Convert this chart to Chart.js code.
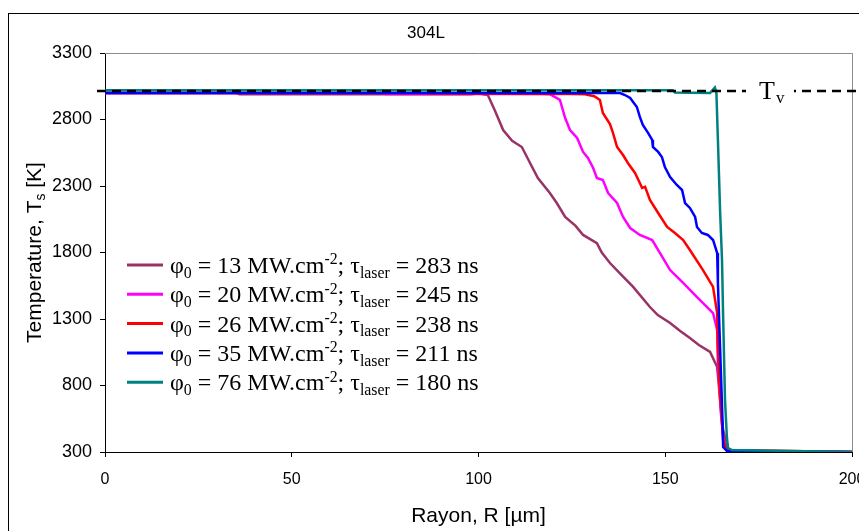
<!DOCTYPE html>
<html>
<head>
<meta charset="utf-8">
<script src="https://cdn.jsdelivr.net/npm/chart.js@4.4.0/dist/chart.umd.min.js"></script>
<style>
  html, body { margin: 0; padding: 0; background: #fff; overflow: hidden; }
</style>
</head>
<body>
<canvas id="myChart" width="900" height="560"></canvas>
<script>
const titulo = "304L";
const phi0 = [13, 20, 26, 35, 76];
const tauLaser = [283, 245, 238, 211, 180];
const colores = ["#993366", "#ff00ff", "#ff0000", "#0000ff", "#008080"];
const Tv = 3015;
const xTicks = [0, 50, 100, 150, 200];
const yTicks = [300, 800, 1300, 1800, 2300, 2800, 3300];

// phi0 = 13
const r13 = [0, 35, 36, 98, 100, 102.5, 104.5, 106.6, 109, 111.6, 113.8, 115.9, 119.1, 121, 123.2, 126, 128, 131.7, 133, 135.2, 138, 141.4, 145.9, 148, 151.3, 154, 156.6, 159, 162, 163.9, 164.7, 165.5, 166.8, 167.6, 200];
const t13 = [3000, 3000, 2990, 2990, 2995, 2984, 2860, 2721, 2640, 2593, 2473, 2360, 2247, 2170, 2067, 2000, 1932, 1871, 1800, 1721, 1640, 1541, 1390, 1330, 1270, 1210, 1157, 1105, 1052, 939, 691, 465, 330, 300, 300];
// phi0 = 20
const r20 = [0, 74, 75, 117, 119.1, 121.8, 123.2, 124.5, 126.4, 128, 129.3, 130.7, 131.7, 133.3, 134.7, 137.1, 138.7, 140.6, 143.2, 146.5, 148.6, 151.3, 154.8, 158.5, 162.8, 163.9, 164.1, 164.9, 165.7, 166.8, 200];
const t20 = [3000, 3000, 2992, 2992, 2990, 2947, 2811, 2721, 2661, 2556, 2511, 2435, 2360, 2345, 2247, 2172, 2067, 1984, 1932, 1894, 1796, 1668, 1571, 1465, 1345, 1217, 969, 593, 368, 307, 300];
// phi0 = 26
const r26 = [0, 86, 87, 125, 128.5, 131, 132.5, 133.3, 135.2, 136, 137.1, 138.7, 140, 141.9, 143.2, 143.8, 144.6, 145.9, 148.1, 150.5, 152.6, 154.8, 156.6, 160.1, 162.8, 163.9, 164.1, 164.7, 165.5, 166.5, 200];
const t26 = [3000, 3000, 2995, 2992, 2990, 2975, 2947, 2849, 2766, 2699, 2593, 2533, 2473, 2398, 2323, 2285, 2293, 2195, 2097, 1992, 1947, 1894, 1819, 1668, 1541, 1345, 1089, 714, 390, 315, 300];
// phi0 = 35
const r35 = [0, 137.9, 139.2, 140.6, 142.4, 143.2, 144, 145.4, 146.5, 146.7, 148.1, 149.1, 149.9, 151.3, 153.1, 154.5, 155.3, 156.6, 158, 158.5, 159.8, 161.4, 162.8, 163.9, 164.1, 164.7, 165.3, 165.5, 166.5, 200];
const t35 = [3000, 2999, 2984, 2962, 2894, 2819, 2759, 2699, 2646, 2593, 2556, 2518, 2443, 2368, 2308, 2270, 2172, 2135, 2067, 1992, 1947, 1932, 1894, 1796, 1571, 1067, 563, 338, 308, 300];
// phi0 = 76
const r76 = [0, 152, 152.6, 162, 163.3, 163.7, 164.1, 164.7, 165.2, 165.5, 166, 166.5, 166.8, 167.9, 200];
const t76 = [3020, 3020, 3003, 3000, 3040, 3000, 2646, 2097, 1744, 1315, 691, 413, 330, 315, 300];

const rayons = [r13, r20, r26, r35, r76];
const temps = [t13, t20, t26, t35, t76];

const graph = document.querySelector("#myChart");

function texteRiche(ctx, x, y, parts, size, family) {
  for (const [txt, mode] of parts) {
    const s = mode ? size * 0.66 : size;
    ctx.font = `${s}px ${family}`;
    const dy = mode === 1 ? size * 0.2 : mode === 2 ? -size * 0.36 : 0;
    ctx.fillText(txt, x, y + dy);
    x += ctx.measureText(txt).width;
  }
  return x;
}

function largeurRiche(ctx, parts, size, family) {
  let w = 0;
  for (const [txt, mode] of parts) {
    ctx.font = `${mode ? size * 0.66 : size}px ${family}`;
    w += ctx.measureText(txt).width;
  }
  return w;
}

const serif = '"Liberation Serif", "Times New Roman", serif';
const sans = '"Liberation Sans", Arial, sans-serif';

const dessins = {
  id: "dessins",
  beforeDraw(chart) {
    const ctx = chart.ctx;
    ctx.save();
    ctx.fillStyle = "#fff";
    ctx.fillRect(0, 0, chart.width, chart.height);
    ctx.strokeStyle = "#000";
    ctx.lineWidth = 1;
    ctx.strokeRect(8.5, 13.5, chart.width, chart.height);
    ctx.restore();
  },
  beforeDatasetsDraw(chart) {
    const { ctx, chartArea: a } = chart;
    ctx.save();
    ctx.strokeStyle = "#8c8c8c";
    ctx.lineWidth = 1;
    ctx.beginPath();
    ctx.moveTo(a.left, a.top + 0.5);
    ctx.lineTo(a.right + 0.5, a.top + 0.5);
    ctx.lineTo(a.right + 0.5, a.bottom);
    ctx.stroke();

    // titre axe y avec indice
    const parts = [["Temperature, T", 0], ["s", 1], [" [K]", 0]];
    ctx.fillStyle = "#000";
    ctx.textBaseline = "alphabetic";
    ctx.textAlign = "left";
    const w = largeurRiche(ctx, parts, 21, sans);
    ctx.translate(33, (a.top + a.bottom) / 2);
    ctx.rotate(-Math.PI / 2);
    texteRiche(ctx, -w / 2, 7.5, parts, 21, sans);
    ctx.restore();
  },
  afterDatasetsDraw(chart) {
    const { ctx, chartArea: a, scales: { y } } = chart;
    const yv = y.getPixelForValue(Tv);
    ctx.save();
    ctx.strokeStyle = "#000";
    ctx.lineWidth = 2.5;
    ctx.setLineDash([9, 6]);
    ctx.beginPath();
    ctx.moveTo(a.left - 8, yv);
    ctx.lineTo(chart.width, yv);
    ctx.stroke();
    ctx.setLineDash([]);

    // étiquette Tv
    const lx = a.right - 106;
    ctx.fillStyle = "#fff";
    ctx.fillRect(lx, yv - 18, 48, 32);
    ctx.fillStyle = "#000";
    ctx.textBaseline = "alphabetic";
    ctx.textAlign = "left";
    ctx.font = `26px ${serif}`;
    ctx.fillText("T", lx + 13, yv + 8);
    ctx.font = `17px ${serif}`;
    ctx.fillText("v", lx + 30, yv + 12);

    // légende
    colores.forEach((c, i) => {
      const cy = 265 + i * 29.3;
      ctx.strokeStyle = c;
      ctx.lineWidth = 3;
      ctx.beginPath();
      ctx.moveTo(127, cy);
      ctx.lineTo(163, cy);
      ctx.stroke();
      ctx.fillStyle = "#000";
      const parts = [["φ", 0], ["0", 1], [` = ${phi0[i]} MW.cm`, 0], ["-2", 2], ["; τ", 0], ["laser", 1], [` = ${tauLaser[i]} ns`, 0]];
      texteRiche(ctx, 170, cy + 8, parts, 24, serif);
    });
    ctx.restore();
  }
};

const datasets = colores.map((c, i) => ({
  label: `φ0 = ${phi0[i]} MW.cm-2; τlaser = ${tauLaser[i]} ns`,
  data: rayons[i].map((r, k) => ({ x: r, y: temps[i][k] })),
  borderColor: c,
  borderWidth: 2.5,
  pointRadius: 0,
  tension: 0,
  order: colores.length - i
}));

const axe = {
  display: true,
  drawOnChartArea: false,
  drawTicks: true,
  tickLength: 5,
  color: "#000",
  lineWidth: 1
};

const myChart = new Chart(graph, {
  type: "line",
  data: { datasets },
  options: {
    responsive: false,
    animation: false,
    layout: { padding: { left: 0, right: 48, top: 0, bottom: 28 } },
    plugins: {
      legend: { display: false },
      tooltip: { enabled: false },
      title: {
        display: true,
        text: titulo,
        color: "#000",
        font: { family: sans, size: 17, weight: "normal" },
        padding: { top: 23, bottom: 9.6 }
      }
    },
    scales: {
      x: {
        type: "linear",
        min: 0,
        max: 200,
        afterBuildTicks: (s) => { s.ticks = xTicks.map((v) => ({ value: v })); },
        afterFit: (s) => { s.height = 80; },
        grid: axe,
        border: { display: true, color: "#000", width: 1 },
        ticks: { color: "#000", font: { family: sans, size: 16 }, padding: 13, maxRotation: 0, callback: (v) => String(v) },
        title: { display: true, text: "Rayon, R [µm]", color: "#000", font: { family: sans, size: 21 }, padding: { top: 0, bottom: 3 } }
      },
      y: {
        type: "linear",
        min: 300,
        max: 3300,
        afterBuildTicks: (s) => { s.ticks = yTicks.map((v) => ({ value: v })); },
        afterFit: (s) => { s.width = 105; },
        grid: axe,
        border: { display: true, color: "#000", width: 1 },
        ticks: { color: "#000", font: { family: sans, size: 18 }, padding: 8, callback: (v) => String(v) }
      }
    }
  },
  plugins: [dessins]
});
</script>
</body>
</html>
